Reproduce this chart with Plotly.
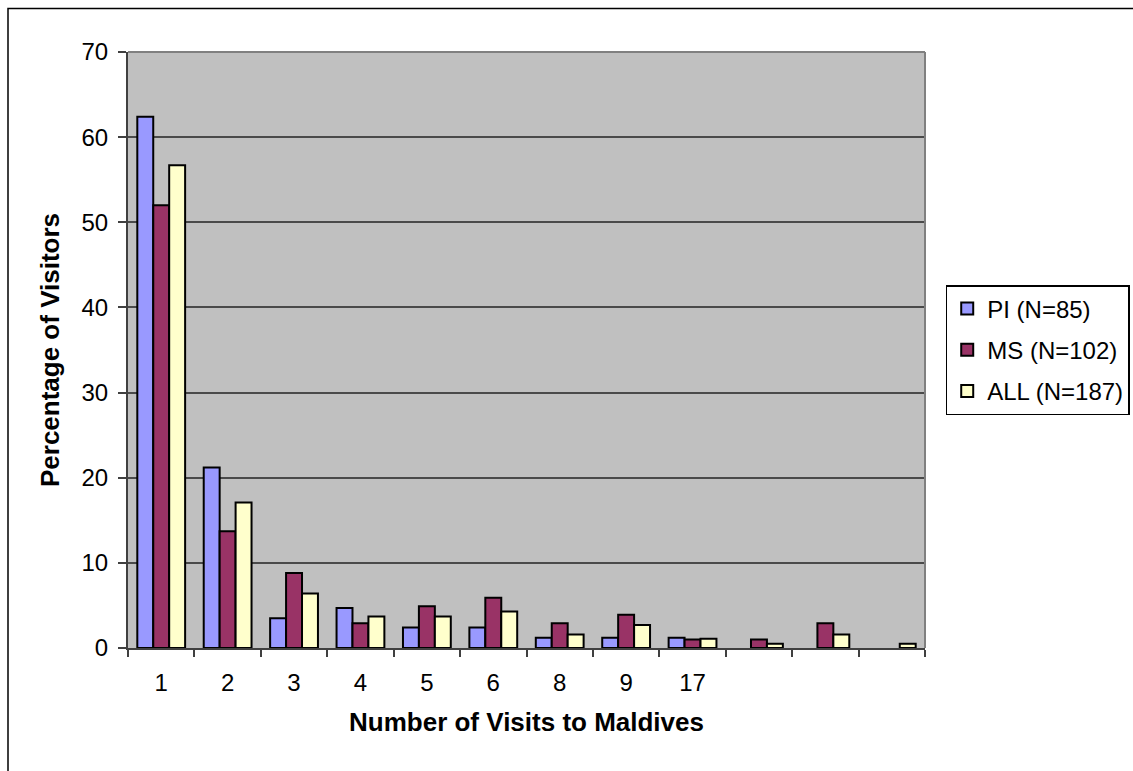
import plotly.graph_objects as go

# Visits to Maldives: share of visitors (%) per number of visits
categories = ["1", "2", "3", "4", "5", "6", "8", "9", "17", " ", "  ", "   "]
pi_values = [62.4, 21.2, 3.5, 4.7, 2.4, 2.4, 1.2, 1.2, 1.2, None, None, None]
ms_values = [52.0, 13.7, 8.8, 2.9, 4.9, 5.9, 2.9, 3.9, 1.0, 1.0, 2.9, None]
all_values = [56.7, 17.1, 6.4, 3.7, 3.7, 4.3, 1.6, 2.7, 1.1, 0.5, 1.6, 0.5]

series = [
    ("PI (N=85)", pi_values, "#9999FF"),
    ("MS (N=102)", ms_values, "#993366"),
    ("ALL (N=187)", all_values, "#FFFFCC"),
]

FONT = "Arial, Liberation Sans, sans-serif"

fig = go.Figure()
for i, (name, vals, color) in enumerate(series):
    fig.add_trace(go.Bar(
        x=categories, y=vals, name=name, legendgroup=str(i),
        marker=dict(color=color, line=dict(color="black", width=2)),
    ))

fig.update_layout(
    width=1133, height=771,
    margin=dict(l=128, r=208, t=52, b=123, autoexpand=False),
    paper_bgcolor="white",
    plot_bgcolor="#C0C0C0",
    barmode="group",
    bargap=0.28,
    bargroupgap=0,
    font=dict(family=FONT, color="black", size=25),
    showlegend=True,
    legend=dict(
        x=1.026, xanchor="left", y=0.5, yanchor="middle",
        bordercolor="black", borderwidth=1.5, bgcolor="white",
        font=dict(family=FONT, size=24, color="black"),
        traceorder="grouped", tracegroupgap=7,
        itemwidth=30,
    ),
    xaxis=dict(
        type="category",
        categoryorder="array", categoryarray=categories,
        tickson="boundaries", ticks="outside", ticklen=7, tickwidth=1.5,
        tickcolor="#404040",
        showline=True, linecolor="#404040", linewidth=2,
        showgrid=False,
        tickfont=dict(family=FONT, size=24),
        ticklabelstandoff=12,
        title=dict(text="<b>Number of Visits to Maldives</b>",
                   font=dict(family=FONT, size=26), standoff=18),
    ),
    yaxis=dict(
        range=[0, 70], dtick=10, tick0=0,
        ticks="outside", ticklen=8, tickwidth=1.5, tickcolor="#404040",
        showline=True, linecolor="#404040", linewidth=2,
        showgrid=True, gridcolor="#4A4A4A", gridwidth=1.5,
        zeroline=False,
        tickfont=dict(family=FONT, size=24),
        ticklabelstandoff=5,
        title=dict(text="<b>Percentage of Visitors</b>",
                   font=dict(family=FONT, size=26), standoff=14),
    ),
)

# top and right edges of the plotting area
fig.add_shape(type="line", xref="paper", yref="paper", x0=0, x1=1, y0=1, y1=1,
              line=dict(color="#808080", width=2))
fig.add_shape(type="line", xref="paper", yref="paper", x0=1, x1=1, y0=0, y1=1,
              line=dict(color="#808080", width=2))

# outer chart frame
pw, ph = 1133 - 128 - 208, 771 - 52 - 123
fig.add_shape(type="rect", xref="paper", yref="paper",
              x0=(8 - 128) / pw, x1=(1140 - 128) / pw,
              y0=(648 - 780) / ph, y1=(648 - 8.5) / ph,
              line=dict(color="black", width=1.5), layer="below")

fig.write_html("out.html")
